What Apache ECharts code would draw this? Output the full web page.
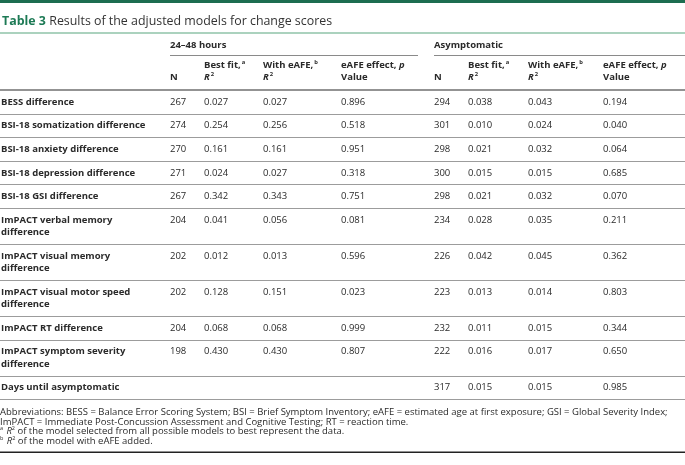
<!DOCTYPE html>
<html><head><meta charset="utf-8">
<script src="https://cdn.jsdelivr.net/npm/echarts@6/dist/echarts.min.js"></script>
<style>html,body{margin:0;padding:0;background:#fff}#c{width:685px;height:465px}</style>
</head><body><div id="c"></div>
<script>
// ---- data ----
const titleNum = 'Table 3';
const titleText = 'Results of the adjusted models for change scores';
const groups = ['24–48 hours', 'Asymptomatic'];
const rowLabels = ['BESS difference', 'BSI-18 somatization difference', 'BSI-18 anxiety difference',
  'BSI-18 depression difference', 'BSI-18 GSI difference', 'ImPACT verbal memory\ndifference',
  'ImPACT visual memory\ndifference', 'ImPACT visual motor speed\ndifference', 'ImPACT RT difference',
  'ImPACT symptom severity\ndifference', 'Days until asymptomatic'];
const n24  = [267, 274, 270, 271, 267, 204, 202, 202, 204, 198, null];
const bf24 = [0.027, 0.254, 0.161, 0.024, 0.342, 0.041, 0.012, 0.128, 0.068, 0.430, null];
const we24 = [0.027, 0.256, 0.161, 0.027, 0.343, 0.056, 0.013, 0.151, 0.068, 0.430, null];
const p24  = [0.896, 0.518, 0.951, 0.318, 0.751, 0.081, 0.596, 0.023, 0.999, 0.807, null];
const nAs  = [294, 301, 298, 300, 298, 234, 226, 223, 232, 222, 317];
const bfAs = [0.038, 0.010, 0.021, 0.015, 0.021, 0.028, 0.042, 0.013, 0.011, 0.016, 0.015];
const weAs = [0.043, 0.024, 0.032, 0.015, 0.032, 0.035, 0.045, 0.014, 0.015, 0.017, 0.015];
const pAs  = [0.194, 0.040, 0.064, 0.685, 0.070, 0.211, 0.362, 0.803, 0.344, 0.650, 0.985];
const footnotes = [
  'Abbreviations: BESS = Balance Error Scoring System; BSI = Brief Symptom Inventory; eAFE = estimated age at first exposure; GSI = Global Severity Index;',
  'ImPACT = Immediate Post-Concussion Assessment and Cognitive Testing; RT = reaction time.',
  '{s|a} {i|R}{s|2}{t| of the model selected from all possible models to best represent the data.}',
  '{s|b} {i|R}{s|2}{t| of the model with eAFE added.}'
];

// ---- layout ----
const FONT = '"Open Sans", "Noto Sans", sans-serif';
const TXT = '#2a2a2a';
const FS = 9.5;
const colX = [1, 170, 204, 263, 341, 434, 468, 528, 603];
const groupSpan = [[170, 418], [434, 685]];
const headerBottom = 90;
const singleH = 23.6, lineStep = 12.4;

const g = [];
g.push({type: 'rect', shape: {x: 0, y: 0, width: 685, height: 3}, style: {fill: '#1d6d50'}});
g.push({type: 'text', x: 2, y: 21, style: {
  text: '{a|' + titleNum + '} {b|' + titleText + '}', verticalAlign: 'middle',
  rich: {a: {fontFamily: FONT, fontSize: 12.4, fontWeight: 'bold', fill: '#1d7a55'},
         b: {fontFamily: FONT, fontSize: 12.4, fill: '#333'}}}});
g.push({type: 'line', shape: {x1: 0, y1: 33, x2: 685, y2: 33}, style: {stroke: '#8fc3a9', lineWidth: 1.3}});

// group headers
groups.forEach((t, i) => {
  g.push({type: 'text', x: groupSpan[i][0], y: 45, style: {text: t, fontFamily: FONT, fontSize: FS, fontWeight: 'bold', fill: TXT, verticalAlign: 'middle'}});
  g.push({type: 'line', shape: {x1: groupSpan[i][0], y1: 55.5, x2: groupSpan[i][1], y2: 55.5}, style: {stroke: '#8a8a8a', lineWidth: 1}});
});
const hRich = {
  h: {fontFamily: FONT, fontSize: FS, fontWeight: 'bold', fill: TXT, lineHeight: 12},
  i: {fontFamily: FONT, fontSize: FS, fontWeight: 'bold', fontStyle: 'italic', fill: TXT, lineHeight: 12},
  s: {fontFamily: FONT, fontSize: 5.8, fontWeight: 'bold', fill: TXT, lineHeight: 12, verticalAlign: 'top', padding: [0, 0, 0, 1]}
};
const subHeads = [
  '{h|N}',
  '{h|Best fit,}{s|a}\n{i|R}{s|2}',
  '{h|With eAFE,}{s|b}\n{i|R}{s|2}',
  '{h|eAFE effect, }{i|p}\n{h|Value}'
];
[0, 1].forEach(gi => {
  subHeads.forEach((t, k) => {
    const x = colX[1 + gi * 4 + k];
    const y = k === 0 ? 77 : 71;
    g.push({type: 'text', x: x, y: y, style: {text: t, rich: hRich, verticalAlign: 'middle'}});
  });
});
g.push({type: 'line', shape: {x1: 0, y1: headerBottom, x2: 685, y2: headerBottom}, style: {stroke: '#6f6f6f', lineWidth: 1.3}});

// body rows
let rowTop = headerBottom;
const cols = [n24, bf24, we24, p24, nAs, bfAs, weAs, pAs];
rowLabels.forEach((lab, r) => {
  const lines = lab.split('\n').length;
  const h = singleH + (lines - 1) * lineStep;
  const ty = rowTop + 12;
  g.push({type: 'text', x: colX[0], y: ty - lineStep / 2, style: {text: lab, fontFamily: FONT, fontSize: FS, fontWeight: 'bold', fill: TXT, lineHeight: lineStep, verticalAlign: 'top'}});
  cols.forEach((arr, c) => {
    const v = arr[r];
    if (v === null || v === undefined) return;
    const s = c % 4 === 0 ? String(v) : v.toFixed(3);
    g.push({type: 'text', x: colX[c + 1], y: ty, style: {text: s, fontFamily: FONT, fontSize: FS, fill: TXT, verticalAlign: 'middle'}});
  });
  rowTop += h;
  g.push({type: 'line', shape: {x1: 0, y1: Math.round(rowTop) + 0.5, x2: 685, y2: Math.round(rowTop) + 0.5}, style: {stroke: '#9c9c9c', lineWidth: 1.2}});
});

// footnotes
const FF = 9.5;
const fRich = {
  t: {fontFamily: FONT, fontSize: FF, fill: TXT},
  i: {fontFamily: FONT, fontSize: FF, fontStyle: 'italic', fill: TXT},
  s: {fontFamily: FONT, fontSize: 5.5, fill: TXT, verticalAlign: 'top'}
};
footnotes.forEach((t, k) => {
  const txt = t.indexOf('{') === 0 ? t : '{t|' + t + '}';
  g.push({type: 'text', x: 0, y: rowTop + 13 + k * 9.7, style: {text: txt, rich: fRich, verticalAlign: 'middle'}});
});
g.push({type: 'line', shape: {x1: 0, y1: rowTop + 53, x2: 685, y2: rowTop + 53}, style: {stroke: '#222', lineWidth: 1.5}});

const chart = echarts.init(document.getElementById('c'), null, {renderer: 'canvas'});
chart.setOption({animation: false, backgroundColor: '#fff', graphic: g});
</script></body></html>
